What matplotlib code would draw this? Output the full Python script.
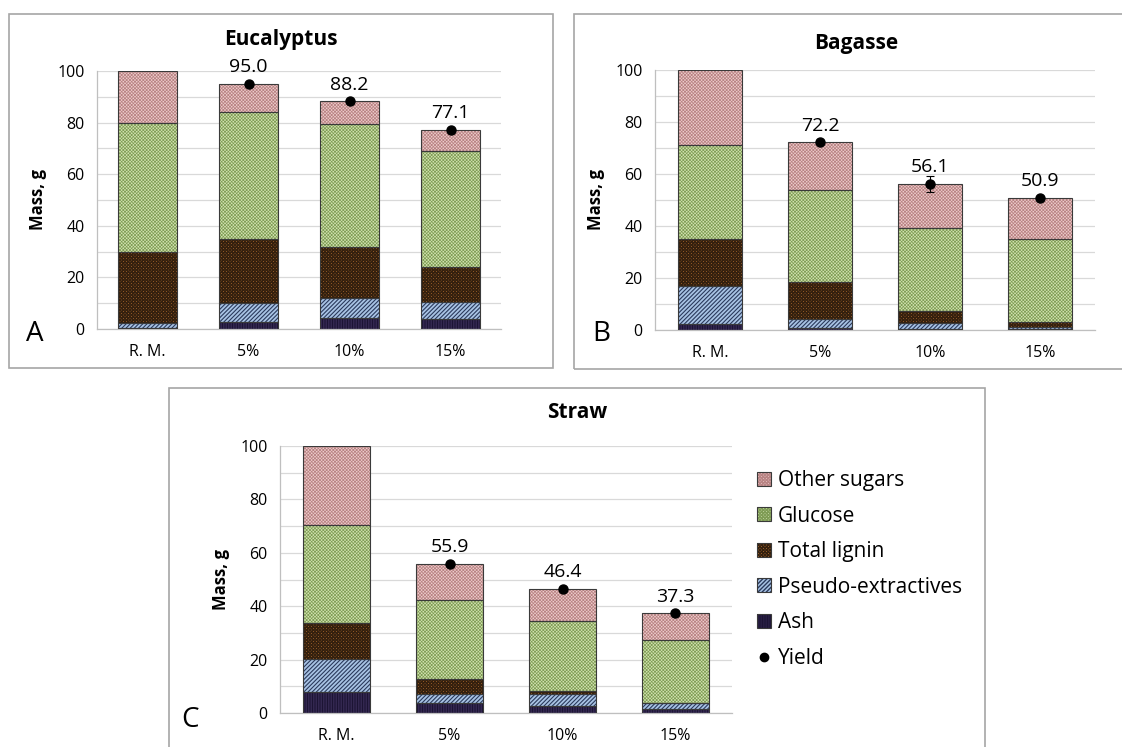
import numpy as np
import matplotlib
matplotlib.use('Agg')
import matplotlib.pyplot as plt
from matplotlib.patches import Rectangle, Patch
from matplotlib.lines import Line2D

plt.rcParams['font.family'] = ['Open Sans', 'DejaVu Sans']

# 数据 (g), 从下往上: Ash, Pseudo-extractives, Total lignin, Glucose, Other sugars
categories = ['R. M.', '5%', '10%', '15%']
components = ['Ash', 'Pseudo-extractives', 'Total lignin', 'Glucose', 'Other sugars']

euc_ash = [0.2, 2.8, 4.3, 3.9]
euc_pseudo = [2.1, 7.1, 7.8, 6.5]
euc_lignin = [27.5, 24.9, 19.6, 13.6]
euc_glucose = [50.0, 49.3, 47.6, 45.1]
euc_other = [20.2, 10.9, 8.9, 8.0]
euc_yield = [95.0, 88.2, 77.1]
euc_err = [0.3, 0.3, 0.3]

bag_ash = [2.3, 0.9, 0.4, 0.5]
bag_pseudo = [14.7, 3.2, 2.2, 0.7]
bag_lignin = [18.1, 14.2, 4.6, 1.7]
bag_glucose = [36.1, 35.6, 32.2, 32.2]
bag_other = [28.8, 18.3, 16.7, 15.8]
bag_yield = [72.2, 56.1, 50.9]
bag_err = [0.3, 3.2, 0.3]

str_ash = [7.7, 3.7, 2.7, 1.5]
str_pseudo = [12.4, 3.6, 4.4, 2.2]
str_lignin = [13.6, 5.5, 1.1, 0.2]
str_glucose = [36.6, 29.6, 26.4, 23.3]
str_other = [29.7, 13.5, 11.8, 10.1]
str_yield = [55.9, 46.4, 37.3]
str_err = [0.3, 0.3, 0.3]

# 每个组分的填充样式: 底色, 花纹色, 花纹, 花纹线宽
styles = {
    'Ash': ('#463868', '#1c1434', '|' * 10, 0.8),
    'Pseudo-extractives': ('#a8c3e4', '#2b3a5c', '/' * 8, 0.8),
    'Total lignin': ('#bf7634', '#34200e', 'x' * 10, 1.05),
    'Glucose': ('#d2e3b0', '#7f9c55', 'x' * 10, 0.5),
    'Other sugars': ('#efcccc', '#b88484', 'x' * 10, 0.55),
}

W, H = 1122, 747
fig = plt.figure(figsize=(W / 100, H / 100), dpi=100)


def fx(px):
    return px / W


def fy(py):
    return 1 - py / H


def draw_panel(rect, title, title_xy, letter, letter_xy, layers, yields, errs, width):
    x0, y0, x1, y1 = rect
    ax = fig.add_axes([fx(x0), fy(y1), fx(x1 - x0), (y1 - y0) / H])
    x = np.arange(len(categories))
    bottom = np.zeros(len(categories))
    for name, vals in zip(components, layers):
        face, hcol, hatch, hlw = styles[name]
        with plt.rc_context({'hatch.linewidth': hlw}):
            ax.bar(x, vals, width, bottom=bottom, color=face, edgecolor=hcol,
                   hatch=hatch, linewidth=0, zorder=2)
        ax.bar(x, vals, width, bottom=bottom, fill=False, edgecolor='#3a3a3a',
               linewidth=0.8, zorder=3)
        bottom = bottom + np.array(vals)
    xs = x[1:]
    ax.errorbar(xs, yields, yerr=errs, fmt='o', color='black', markersize=6.5,
                elinewidth=0.8, capsize=3, capthick=0.8, zorder=5)
    for xi, v in zip(xs, yields):
        ax.annotate('%.1f' % v, (xi, v), xytext=(0, 12), textcoords='offset points',
                    ha='center', va='center', fontsize=14)
    ax.set_xlim(-0.5, len(categories) - 0.5)
    ax.set_ylim(0, 100)
    ax.set_yticks(np.arange(0, 101, 20))
    ax.set_yticks(np.arange(0, 101, 10), minor=True)
    ax.grid(axis='y', which='both', color='#d9d9d9', linewidth=0.9, zorder=0)
    ax.set_axisbelow(True)
    ax.set_xticks(x)
    ax.set_xticklabels(categories)
    ax.tick_params(axis='both', which='both', length=0, labelsize=11.5)
    ax.tick_params(axis='y', pad=9)
    ax.tick_params(axis='x', pad=11)
    for s in ['top', 'right']:
        ax.spines[s].set_visible(False)
    for s in ['left', 'bottom']:
        ax.spines[s].set_color('#bfbfbf')
        ax.spines[s].set_linewidth(0.9)
    ax.set_ylabel('Mass, g', fontsize=12, fontweight='bold', labelpad=7)
    fig.text(fx(title_xy[0]), fy(title_xy[1]), title, ha='center', va='center',
             fontsize=15, fontweight='bold')
    fig.text(fx(letter_xy[0]), fy(letter_xy[1]), letter, ha='center', va='center',
             fontsize=20)
    return ax


# 面板边框
fig.add_artist(Rectangle((fx(9), fy(368)), fx(544), 354 / H, transform=fig.transFigure,
                         fill=False, edgecolor='#a6a6a6', linewidth=1.2))
fig.add_artist(Rectangle((fx(574), fy(369)), fx(600), 355 / H, transform=fig.transFigure,
                         fill=False, edgecolor='#a6a6a6', linewidth=1.2))
fig.add_artist(Rectangle((fx(169), fy(800)), fx(816), 412 / H, transform=fig.transFigure,
                         fill=False, edgecolor='#a6a6a6', linewidth=1.2))

draw_panel((97, 71, 501, 329), 'Eucalyptus', (281, 39), 'A', (35, 334),
           [euc_ash, euc_pseudo, euc_lignin, euc_glucose, euc_other],
           euc_yield, euc_err, 0.58)
draw_panel((655, 70, 1095, 330), 'Bagasse', (856, 43), 'B', (601, 334),
           [bag_ash, bag_pseudo, bag_lignin, bag_glucose, bag_other],
           bag_yield, bag_err, 0.58)
ax_c = draw_panel((280, 446, 732, 713), 'Straw', (577, 413), 'C', (190, 720),
                  [str_ash, str_pseudo, str_lignin, str_glucose, str_other],
                  str_yield, str_err, 0.59)

# 图例
handles = []
for name in reversed(components):
    face, hcol, hatch, hlw = styles[name]
    with plt.rc_context({'hatch.linewidth': hlw}):
        fill = Patch(facecolor=face, edgecolor=hcol, hatch=hatch, linewidth=0)
    outline = Patch(fill=False, edgecolor='#3a3a3a', linewidth=0.8)
    handles.append((fill, outline))
handles.append(Line2D([], [], marker='o', color='black', linestyle='none',
                      markersize=6))
labels = list(reversed(components)) + ['Yield']
fig.legend(handles, labels, loc='upper left', bbox_to_anchor=(fx(757), fy(470)),
           frameon=False, fontsize=15, handlelength=0.65, handleheight=0.65,
           handletextpad=0.35, labelspacing=0.70, borderpad=0, borderaxespad=0)

fig.savefig('out.png', dpi=100)
